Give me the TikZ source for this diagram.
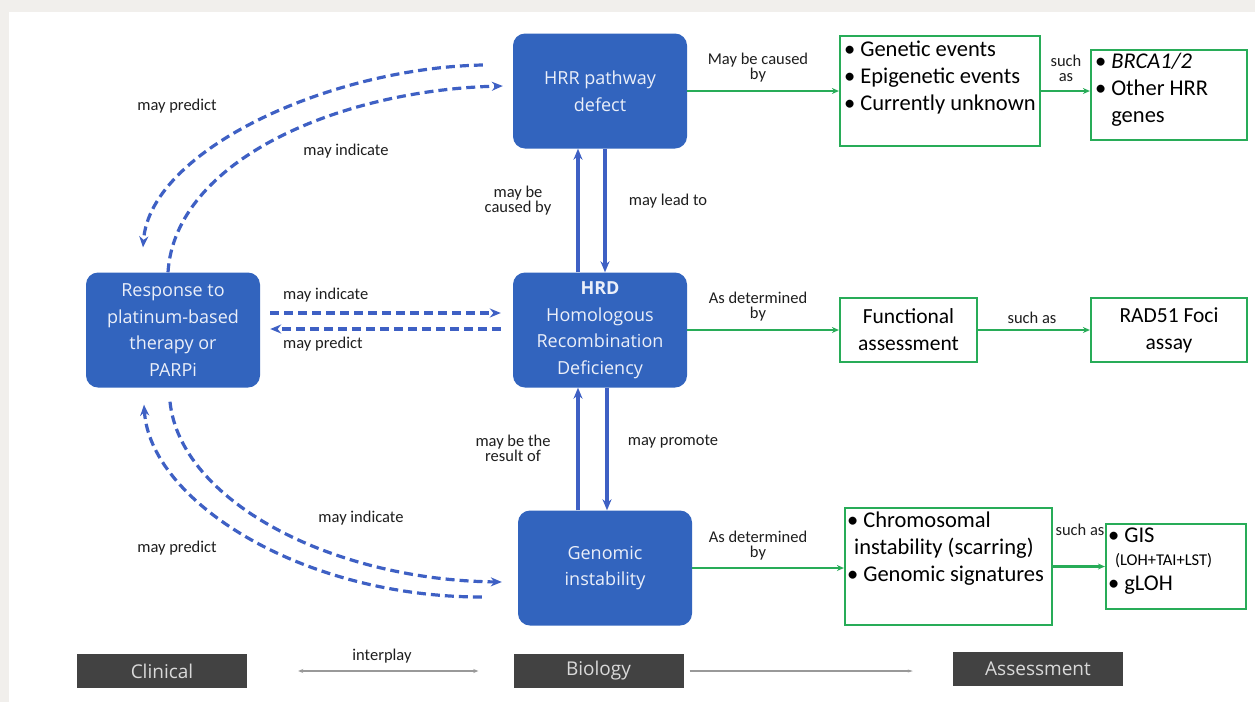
\documentclass[tikz,border=0pt]{standalone}
\usepackage{fontspec}
\setmainfont{Carlito}
\newfontfamily\boxfont{Open Sans}
\newcommand{\bulit}{\textbullet\hspace{5pt}}
\newcommand{\bulsp}{\hphantom{\textbullet}\hspace{5pt}}
\usepackage{tikz}
\usetikzlibrary{arrows.meta,positioning,calc}
\definecolor{BioBlue}{RGB}{50,100,190}
\definecolor{ArrBlue}{RGB}{62,96,196}
\definecolor{AsGreen}{RGB}{40,172,88}
\definecolor{BarGrey}{RGB}{66,66,66}
\definecolor{PageGrey}{RGB}{241,239,236}
\definecolor{LblGrey}{RGB}{30,30,30}
\tikzset{
  bio/.style={rectangle,rounded corners=12pt,fill=BioBlue,text=white!90!BioBlue,
              minimum width=174pt,minimum height=115pt,align=center,inner sep=0pt,
              font=\boxfont\fontsize{18}{26.5}\selectfont},
  gbox/.style={rectangle,draw=AsGreen,line width=2.2pt,fill=white,align=center,
               font=\fontsize{21.5}{27}\selectfont},
  gtxt/.style={align=left,font=\fontsize{22.5}{27}\selectfont,text=black,inner sep=0pt},
  bar/.style={rectangle,fill=BarGrey,text=white!85!black,minimum width=170pt,
              minimum height=34pt,font=\boxfont\fontsize{19}{20}\selectfont},
  lbl/.style={font=\fontsize{16.5}{15}\selectfont,text=LblGrey,align=center,inner sep=0pt},
  link/.style={-{Stealth[length=11pt,width=9pt]},line width=3.2pt,ArrBlue},
  dlink/.style={link,line width=3.2pt,dash pattern=on 9pt off 5pt},
  asmt/.style={-{Stealth[length=7pt,width=6pt]},line width=2.4pt,AsGreen},
  inter/.style={line width=1.4pt,black!40},
}

\begin{document}
\begin{tikzpicture}[x=1pt,y=-1pt]
  \fill[PageGrey] (0,0) rectangle (1255,702);
  \fill[white] (9,12) rectangle (1255,702);
  \useasboundingbox (0,0) rectangle (1255,702);

  \node[bio] (hrr)  at (600,91)  {HRR pathway\\defect};
  \node[bio] (resp) at (173,330) {Response to\\platinum-based\\therapy or\\PARPi};
  \node[bio] (hrd)  at (600,330) {\textbf{HRD}\\Homologous\\Recombination\\Deficiency};
  \node[bio] (gi)   at (605,568) {Genomic\\instability};

  \node[gbox,minimum width=200pt,minimum height=110pt] (cause) at (940,91) {};
  \node[gtxt,anchor=north west] at ([xshift=5pt,yshift=-6pt]cause.north west)
  {\bulit Genetic events\\\bulit Epigenetic events\\\bulit Currently unknown};
  \node[gbox,minimum width=156pt,minimum height=90pt] (brca) at (1169,95) {};
  \node[gtxt,anchor=north west] at ([xshift=5pt,yshift=-4pt]brca.north west)
  {\bulit\textit{BRCA1/2}\\\bulit Other HRR\\\bulsp genes};

  \node[gbox,minimum width=137pt,minimum height=64pt] (func) at (908.5,330) {Functional\\assessment};
  \node[gbox,minimum width=156pt,minimum height=64pt] (rad) at (1169,330) {RAD51 Foci\\assay};

  \node[gbox,minimum width=207pt,minimum height=117pt] (chrom) at (948.5,566.5) {};
  \node[gtxt,anchor=north west] at ([xshift=3pt,yshift=-5pt]chrom.north west)
  {\bulit Chromosomal\\\hspace{7pt}instability (scarring)\\\bulit Genomic signatures};
  \node[gbox,minimum width=140pt,minimum height=85pt] (gis) at (1176,566.5) {};
  \node[gtxt,anchor=north west] at ([xshift=3pt,yshift=-5pt]gis.north west)
  {\bulit GIS\\[-4pt]\hspace{7pt}{\fontsize{16.5}{17}\selectfont(LOH+TAI+LST)}\\[-2pt]\bulit gLOH};

  \node[bar] (clin) at (162,671)    {Clinical};
  \node[bar] (biol) at (598.5,671)  {Biology};
  \node[bar] (asse) at (1038,668.5) {Assessment};

  \draw[link] ([xshift=-22pt]hrd.north) -- ([xshift=-22pt]hrr.south);
  \draw[link] ([xshift=5pt]hrr.south) -- ([xshift=5pt]hrd.north);
  \draw[link] ([xshift=-27pt]gi.north) -- ([xshift=-22pt]hrd.south);
  \draw[link] ([xshift=7pt]hrd.south) -- ([xshift=2pt]gi.north);

  \draw[dlink] ([xshift=10pt,yshift=17pt]resp.east) -- ([xshift=-12pt,yshift=17pt]hrd.west);
  \draw[dlink] ([xshift=-12pt,yshift=1pt]hrd.west) -- ([xshift=10pt,yshift=1pt]resp.east);

  \draw[dlink] ([xshift=-30pt,yshift=26pt]hrr.west)
    .. controls (330,68) and (150,150) .. ([xshift=-30pt,yshift=25pt]resp.north);
  \draw[dlink] ([xshift=-5pt]resp.north)
    .. controls (175,160) and (340,90) .. ([xshift=-10pt,yshift=5pt]hrr.west);
  \draw[dlink] ([xshift=-3pt,yshift=-14pt]resp.south)
    .. controls (180,500) and (330,580) .. ([xshift=-16pt,yshift=-14pt]gi.west);
  \draw[dlink] ([xshift=-36pt,yshift=-29pt]gi.west)
    .. controls (300,597) and (150,500) .. ([xshift=-29pt,yshift=-17pt]resp.south);

  \draw[asmt] (hrr.east) -- (hrr.east -| cause.west);
  \draw[asmt] (cause.east) -- (cause.east -| brca.west);
  \draw[asmt] (hrd.east) -- (func.west);
  \draw[asmt] (func.east) -- (rad.west);
  \draw[asmt] (gi.east) -- (gi.east -| chrom.west);
  \draw[asmt] (chrom.east) -- (chrom.east -| gis.west);

  \draw[inter,{Stealth[length=5pt,width=4pt]}-{Stealth[length=5pt,width=4pt]},
        shorten <=51pt,shorten >=35pt] (clin.east) -- (biol.west);
  \draw[inter,-{Stealth[length=5pt,width=3pt]},shorten <=6pt,shorten >=40pt]
        (biol.east) -- (biol.east -| asse.west);

  \node[lbl] at (177,106) {may predict};
  \node[lbl] at (346,151) {may indicate};
  \node[lbl] at (518,201) {may be\\caused by};
  \node[lbl] at (668,201) {may lead to};
  \node[lbl,anchor=west] at (283,295) {may indicate};
  \node[lbl,anchor=west] at (283,344) {may predict};
  \node[lbl] at (513,448) {may be the\\result of};
  \node[lbl] at (673,442) {may promote};
  \node[lbl] at (361,518) {may indicate};
  \node[lbl] at (177,548) {may predict};
  \node[lbl] at (382,656) {interplay};
  \node[lbl] at (758,68)  {May be caused\\by};
  \node[lbl] at (1066,68) {such\\as};
  \node[lbl] at (758,307) {As determined\\by};
  \node[lbl] at (1032,318) {such as};
  \node[lbl] at (758,546) {As determined\\by};
  \node[lbl] at (1080,530) {such as};
\end{tikzpicture}
\end{document}
